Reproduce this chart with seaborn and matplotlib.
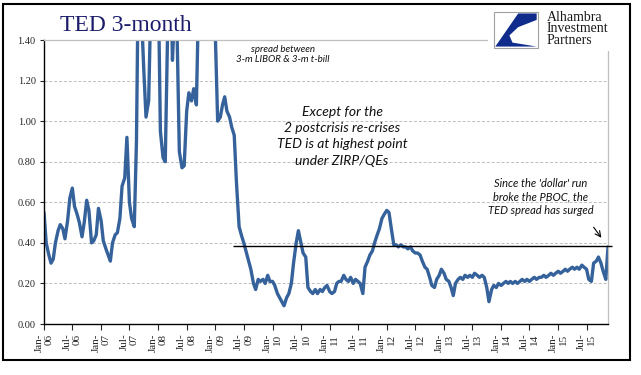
import pandas as pd
import seaborn as sns
import matplotlib.pyplot as plt
import matplotlib.dates as mdates
from matplotlib.ticker import FormatStrFormatter
from matplotlib.patches import Rectangle, Polygon

# TED spread (3-m LIBOR minus 3-m t-bill), twice a month
ted_2006 = [0.55, 0.40, 0.34, 0.30, 0.32, 0.40, 0.46, 0.49, 0.47, 0.42, 0.51, 0.62,
            0.67, 0.58, 0.54, 0.50, 0.43, 0.50, 0.61, 0.56, 0.40, 0.41, 0.44, 0.57]
ted_2007 = [0.51, 0.41, 0.37, 0.34, 0.31, 0.40, 0.44, 0.45, 0.52, 0.68, 0.72, 0.92,
            0.60, 0.52, 0.48, 0.90, 2.10, 1.55, 1.25, 1.02, 1.10, 1.60, 1.90, 2.10]
ted_2008 = [1.70, 0.95, 0.82, 0.80, 1.45, 2.00, 1.30, 1.55, 1.42, 0.85, 0.77, 0.78,
            1.05, 1.14, 1.10, 1.16, 1.08, 1.60, 3.00, 4.50, 3.20, 2.20, 2.00, 1.60]
ted_2009 = [1.40, 1.00, 1.02, 1.08, 1.12, 1.05, 1.02, 0.97, 0.93, 0.70, 0.48, 0.44,
            0.40, 0.36, 0.31, 0.27, 0.20, 0.17, 0.22, 0.21, 0.22, 0.20, 0.24, 0.21]
ted_2010 = [0.21, 0.19, 0.15, 0.13, 0.11, 0.09, 0.13, 0.15, 0.20, 0.30, 0.40, 0.46,
            0.40, 0.35, 0.33, 0.18, 0.16, 0.15, 0.17, 0.15, 0.17, 0.16, 0.18, 0.19]
ted_2011 = [0.16, 0.15, 0.16, 0.20, 0.21, 0.21, 0.24, 0.22, 0.21, 0.23, 0.20, 0.22,
            0.21, 0.20, 0.15, 0.28, 0.31, 0.34, 0.36, 0.40, 0.44, 0.47, 0.52, 0.54]
ted_2012 = [0.56, 0.55, 0.46, 0.39, 0.39, 0.38, 0.39, 0.38, 0.38, 0.37, 0.38, 0.36,
            0.35, 0.35, 0.34, 0.31, 0.28, 0.27, 0.23, 0.19, 0.18, 0.22, 0.24, 0.27]
ted_2013 = [0.25, 0.22, 0.21, 0.18, 0.14, 0.20, 0.22, 0.23, 0.22, 0.24, 0.23, 0.24,
            0.23, 0.25, 0.24, 0.23, 0.24, 0.23, 0.18, 0.11, 0.17, 0.19, 0.18, 0.20]
ted_2014 = [0.19, 0.20, 0.21, 0.20, 0.21, 0.20, 0.21, 0.20, 0.21, 0.22, 0.21, 0.22,
            0.21, 0.22, 0.23, 0.22, 0.23, 0.23, 0.24, 0.23, 0.24, 0.25, 0.24, 0.25]
ted_2015 = [0.26, 0.25, 0.26, 0.27, 0.26, 0.27, 0.28, 0.27, 0.28, 0.27, 0.29, 0.28,
            0.27, 0.22, 0.21, 0.30, 0.31, 0.33, 0.30, 0.26, 0.22, 0.38]

y_ticks = [0.0, 0.2, 0.4, 0.6, 0.8, 1.0, 1.2, 1.4]
ref_level = 0.385
ref_start = "2009-04-20"
ref_end = "2015-12-10"

title_text = "TED 3-month"
subtitle = "spread between\n3-m LIBOR & 3-m t-bill"
note_main = "Except for the\n2 postcrisis re-crises\nTED is at highest point\nunder ZIRP/QEs"
note_right = "Since the 'dollar' run\nbroke the PBOC, the\nTED spread has surged"
logo_text = "Alhambra\nInvestment\nPartners"

values = (ted_2006 + ted_2007 + ted_2008 + ted_2009 + ted_2010 +
          ted_2011 + ted_2012 + ted_2013 + ted_2014 + ted_2015)
dates = pd.date_range("2006-01-01", periods=len(values), freq="SMS")
df = pd.DataFrame({"date": dates, "ted": values})

sns.set_style("white")
plt.rcParams["font.family"] = ["Liberation Serif", "DejaVu Serif"]

W, H = 641, 375
fig = plt.figure(figsize=(W / 100, H / 100), dpi=100)
ax = fig.add_axes([44 / W, 1 - 324 / H, 564 / W, 284 / H])

sns.lineplot(data=df, x="date", y="ted", ax=ax, color="#36629b", linewidth=2.4)

ax.set_ylim(0, 1.4)
ax.set_xlim(dates[0], dates[-1])
ax.set_xlabel("")
ax.set_ylabel("")
ax.set_yticks(y_ticks)
ax.yaxis.set_major_formatter(FormatStrFormatter("%.2f"))
ax.xaxis.set_major_locator(mdates.MonthLocator(bymonth=[1, 7]))
ax.xaxis.set_major_formatter(mdates.DateFormatter("%b-\n%y"))
ax.tick_params(axis="y", direction="out", length=3, width=0.8, pad=3,
               labelsize=7.5, left=True)
ax.tick_params(axis="x", direction="out", length=4, width=0.8, pad=3,
               labelsize=8, bottom=True)
for lab in ax.get_xticklabels():
    lab.set_rotation(90)
    lab.set_multialignment("right")

ax.grid(axis="y", linestyle=(0, (3, 2)), color="#bdbdbd", linewidth=0.7)
ax.grid(axis="x", visible=False)
for side in ["left", "bottom"]:
    ax.spines[side].set_color("black")
    ax.spines[side].set_linewidth(1.0)
for side in ["top", "right"]:
    ax.spines[side].set_visible(True)
    ax.spines[side].set_color("#bfbfbf")
    ax.spines[side].set_linewidth(0.9)

ax.hlines(ref_level, pd.Timestamp(ref_start), pd.Timestamp(ref_end),
          color="black", linewidth=1.0, clip_on=False, zorder=4)

# texts
fig.text(60 / W, 1 - 31 / H, title_text, fontsize=17, color="#1c1c6b",
         va="baseline", ha="left")
sans_it = dict(family=["Lato", "DejaVu Sans"], style="italic", color="#111111")
fig.text(283 / W, 1 - 45 / H, subtitle, fontsize=7, ha="center", va="top",
         linespacing=1.15, **sans_it)
fig.text(342 / W, 1 - 106 / H, note_main, fontsize=10, ha="center", va="top",
         linespacing=1.42, **sans_it)
fig.text(541 / W, 1 - 178 / H, note_right, fontsize=8, ha="center", va="top",
         linespacing=1.25, **sans_it)
ax.annotate("", xy=(603, H - 240), xytext=(592, H - 225),
            xycoords="figure pixels", textcoords="figure pixels",
            arrowprops=dict(arrowstyle="->", lw=0.8, color="black"))

# logo block
fig.patches.append(Rectangle((488 / W, 1 - 51 / H), 135 / W, 43 / H,
                             transform=fig.transFigure, facecolor="white",
                             edgecolor="none", zorder=5))
bx, by, bw, bh = 494, H - 48, 44, 36
fig.patches.append(Rectangle((bx / W, by / H), bw / W, bh / H,
                             transform=fig.transFigure, facecolor="white",
                             edgecolor="#a0a0a0", linewidth=0.8, zorder=6))
shape = [(0.55, 0.96), (0.97, 0.96), (0.97, 0.78), (0.55, 0.58), (0.35, 0.35),
         (0.42, 0.15), (0.97, 0.04), (0.03, 0.04)]
fig.patches.append(Polygon([((bx + u * bw) / W, (by + v * bh) / H) for u, v in shape],
                           closed=True, transform=fig.transFigure,
                           facecolor="#0f2c8c", edgecolor="none", zorder=7))
fig.text(547 / W, 1 - 11 / H, logo_text, fontsize=10, ha="left", va="top",
         linespacing=0.85, color="#1a1a1a", zorder=8)

# outer frame
fig.patches.append(Rectangle((3 / W, 15 / H), 627 / W, 356 / H,
                             transform=fig.transFigure, fill=False,
                             edgecolor="black", linewidth=1.5, zorder=9))

fig.savefig("out.png", dpi=100)
